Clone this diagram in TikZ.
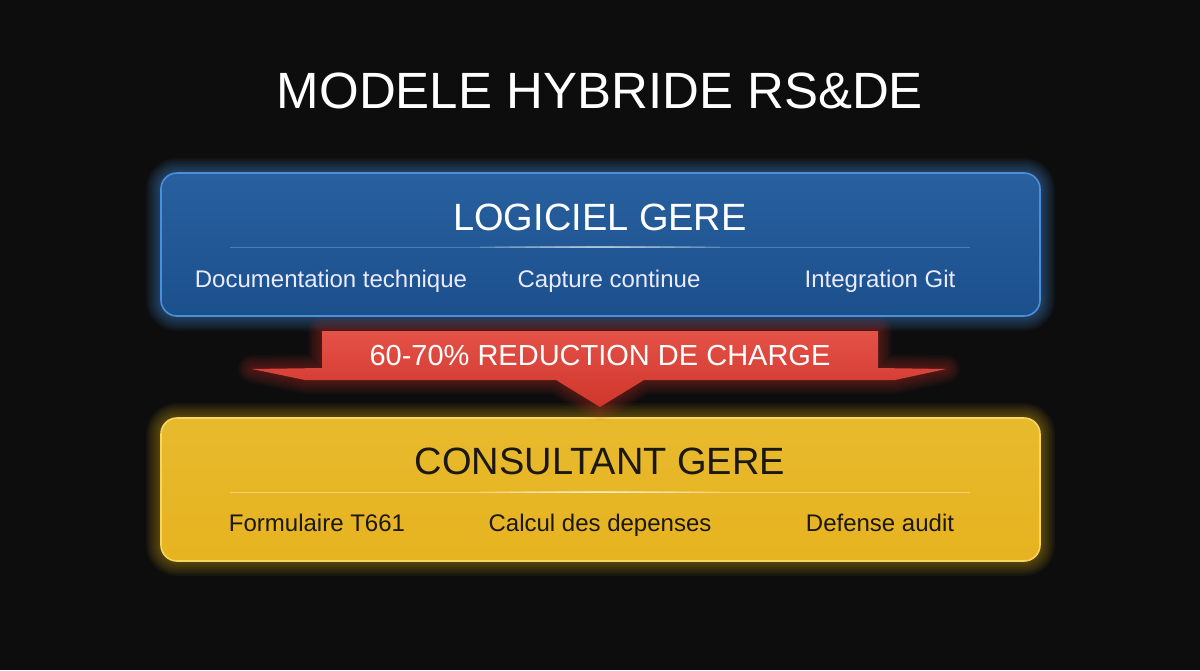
\documentclass[tikz,border=0pt]{standalone}
\usepackage{fontspec}
\setmainfont{Liberation Sans}
\usetikzlibrary{positioning}
\definecolor{bg_k}{HTML}{0D0D0E}
\definecolor{blu_f}{HTML}{1D5799}
\definecolor{blu_d}{HTML}{4A8FDA}
\definecolor{yel_f}{HTML}{E6B622}
\definecolor{yel_d}{HTML}{F6D560}
\definecolor{red_f}{HTML}{E13A2F}
\definecolor{ink_k}{HTML}{1B1711}
\tikzset{
        txt_n/.style = {anchor=base, inner sep=0pt},
        hdr_b/.style = {txt_n, white, font=\fontsize{38}{40}\selectfont},
        hdr_y/.style = {txt_n, ink_k, font=\fontsize{38}{40}\selectfont},
        itm_b/.style = {txt_n, white!92!blue, font=\fontsize{24}{26}\selectfont},
        itm_y/.style = {txt_n, ink_k, font=\fontsize{24}{26}\selectfont},
        box_n/.style = {rectangle, rounded corners=16pt, line width=1.6pt,
            minimum width=879pt, minimum height=143pt, inner sep=0pt},
        box_b/.style = {box_n, draw=blu_d, top color=blu_f!95!white, bottom color=blu_f!92!black},
        box_y/.style = {box_n, draw=yel_d, top color=yel_f!95!white, bottom color=yel_f!95!orange}
    }

\begin{document}
\begin{tikzpicture}[x=1pt,y=-1pt]
            \fill[bg_k] (0,0) rectangle (1200,670);
            \useasboundingbox (0,0) rectangle (1200,670);
            % glow
            \foreach \g in {3,6,...,30}{
                \draw[blu_d, opacity=0.05, line width=\g pt, rounded corners=16pt]
                    (161,173) rectangle (1040,316);
                \draw[yel_f, opacity=0.045, line width=\g pt, rounded corners=16pt]
                    (161,418) rectangle (1040,561);
            }
            \node [box_b] (soft) at (600.5,244.5) {};
            \node [box_y] (cons) at (600.5,489.5) {};
            \node [txt_n, white, font=\fontsize{51}{56}\selectfont] (ttl) at (600,108) {MODELE HYBRIDE RS\&DE};
            % logiciel
            \draw[blu_d!70!white, opacity=0.45, line width=0.8pt] (230,247) -- (970,247);
            \foreach \l in {15,30,...,120}
                \draw[white, opacity=0.1, line width=1.4pt] (600-\l,247) -- (600+\l,247);
            \node [hdr_b] (soft_h) at (600,230) {LOGICIEL GERE};
            \node [itm_b] (soft_a) at (331,287) {Documentation technique};
            \node [itm_b] (soft_b) at (609,287) {Capture continue};
            \node [itm_b] (soft_c) at (880,287) {Integration Git};
            % consultant
            \draw[yel_d!60!white, opacity=0.6, line width=0.8pt] (230,492) -- (970,492);
            \foreach \l in {15,30,...,120}
                \draw[white, opacity=0.1, line width=1.4pt] (600-\l,492) -- (600+\l,492);
            \node [hdr_y] (cons_h) at (600,474) {CONSULTANT GERE};
            \node [itm_y] (cons_a) at (317,531) {Formulaire T661};
            \node [itm_y] (cons_b) at (600,531) {Calcul des depenses};
            \node [itm_y] (cons_c) at (880,531) {Defense audit};
            % banner
            \foreach \g in {4,8,...,28}
                \draw[red_f, opacity=0.05, line width=\g pt, line join=round]
                    (322,331) -- (878,331) -- (878,368) -- (946,369) -- (895,380) -- (644,380)
                    -- (600,407) -- (556,380) -- (305,380) -- (252,369) -- (322,368) -- cycle;
            \shade[top color=red_f!88!white, bottom color=red_f!92!black]
                (322,331) -- (878,331) -- (878,368) -- (946,369) -- (895,380) -- (644,380)
                -- (600,407) -- (556,380) -- (305,380) -- (252,369) -- (322,368) -- cycle;
            \node [txt_n, white, font=\fontsize{29}{31}\selectfont] (red_t) at (600,365) {60-70\% REDUCTION DE CHARGE};
        \end{tikzpicture}
\end{document}
